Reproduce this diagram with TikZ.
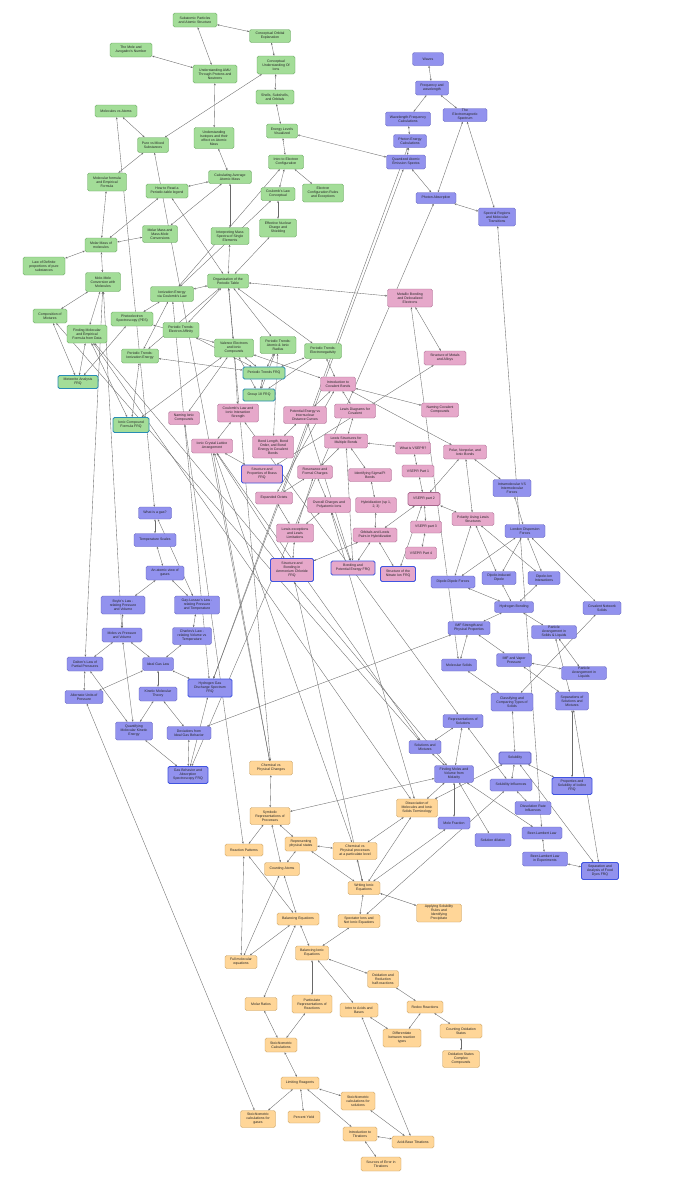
\documentclass[tikz,border=0pt]{standalone}
\usepackage{fontspec}
\setmainfont{Liberation Sans}
\usetikzlibrary{arrows.meta}
\pgfdeclarelayer{back}
\pgfdeclarelayer{edges}
\pgfsetlayers{back,edges,main}
\definecolor{grnfill}{RGB}{163,221,152}
\definecolor{grnline}{RGB}{96,160,88}
\definecolor{prpfill}{RGB}{146,146,238}
\definecolor{prpline}{RGB}{92,92,190}
\definecolor{pnkfill}{RGB}{230,168,202}
\definecolor{pnkline}{RGB}{168,104,142}
\definecolor{orgfill}{RGB}{255,214,152}
\definecolor{orgline}{RGB}{196,156,92}
\definecolor{frqteal}{RGB}{40,140,180}
\definecolor{frqblue}{RGB}{64,84,224}
\definecolor{edgegray}{RGB}{105,105,105}
\tikzset{
  topic/.style={rounded corners=1.6pt, inner sep=0.8pt, align=center,
    font=\fontsize{3.5}{4}\selectfont, text=black!85, line width=0.4pt},
  grn/.style={topic, fill=grnfill, draw=grnline},
  prp/.style={topic, fill=prpfill, draw=prpline},
  pnk/.style={topic, fill=pnkfill, draw=pnkline},
  org/.style={topic, fill=orgfill, draw=orgline},
  frqg/.style={draw=frqteal, line width=0.9pt},
  frqb/.style={draw=frqblue, line width=0.9pt},
  lnk/.style={draw=edgegray, line width=0.35pt,
    {Stealth[length=2.2pt,width=1.8pt]}-{Stealth[length=2.2pt,width=1.8pt]}}
}
\begin{document}
\begin{tikzpicture}[x=1pt,y=-1pt]
\useasboundingbox (0,0) rectangle (679,1200);
\begin{pgfonlayer}{back}
\fill[white] (0,0) rectangle (679,1200);
\end{pgfonlayer}

% Atomic structure (green)
\node[grn, minimum width=44pt, minimum height=14pt] (subatomic) at (195,20) {Subatomic Particles\\and Atomic Structure};
\node[grn, minimum width=41pt, minimum height=13pt] (orbitexpl) at (270,36) {Conceptual Orbital\\Explanation};
\node[grn, minimum width=42pt, minimum height=14pt] (mole) at (131,50) {The Mole and\\Avogadro's Number};
\node[grn, minimum width=44pt, minimum height=18pt] (amu) at (215,74) {Understanding AMU\\Through Protons and\\Neutrons};
\node[grn, minimum width=38pt, minimum height=18pt] (ionsconc) at (276,65) {Conceptual\\Understanding Of\\Ions};
\node[grn, minimum width=38pt, minimum height=14pt] (shells) at (275,97) {Shells, Subshells,\\and Orbitals};
\node[grn, minimum width=31pt, minimum height=14pt] (energylev) at (282,131) {Energy Levels\\Visualized};
\node[grn, minimum width=35pt, minimum height=14pt] (econfig) at (286,162) {Intro to Electron\\Configuration};
\node[grn, minimum width=34pt, minimum height=13pt] (coulconc) at (278,194) {Coulomb's Law\\Conceptual};
\node[grn, minimum width=41pt, minimum height=18pt] (econfrules) at (323,193) {Electron\\Configuration Rules\\and Exceptions};
\node[grn, minimum width=37pt, minimum height=18pt] (zeff) at (278,228) {Effective Nuclear\\Charge and\\Shielding};
\node[grn, minimum width=42pt, minimum height=12pt] (molatoms) at (116,111) {Molecules vs Atoms};
\node[grn, minimum width=31pt, minimum height=15pt] (puremix) at (153,145) {Pure vs Mixed\\Substances};
\node[grn, minimum width=40pt, minimum height=21pt] (isotopes) at (214,138) {Understanding\\Isotopes and their\\effect on Atomic\\Mass};
\node[grn, minimum width=43pt, minimum height=13pt] (avgmass) at (230,177) {Calculating Average\\Atomic Mass};
\node[grn, minimum width=39pt, minimum height=18pt] (molform) at (107,182) {Molecular formula\\and Empirical\\Formula};
\node[grn, minimum width=42pt, minimum height=14pt] (ptlegend) at (167,191) {How to Read a\\Periodic-table legend};
\node[grn, minimum width=38pt, minimum height=17pt] (massspec) at (230,236) {Interpreting Mass\\Spectra of Single\\Elements};
\node[grn, minimum width=35pt, minimum height=17pt] (massmole) at (160,234) {Molar Mass and\\Mass-Mole\\Conversions};
\node[grn, minimum width=32pt, minimum height=14pt] (molarmass) at (101,245) {Molar Mass of\\molecules};
\node[grn, minimum width=42pt, minimum height=18pt] (defprop) at (44,266) {Law of Definite\\proportions of pure\\substances};
\node[grn, minimum width=35pt, minimum height=19pt] (molemole) at (103,282) {Mole-Mole\\Conversion with\\Molecules};
\node[grn, minimum width=41pt, minimum height=14pt] (orgpt) at (228,281) {Organization of the\\Periodic Table};
\node[grn, minimum width=43pt, minimum height=15pt] (iecoul) at (172,294) {Ionization Energy\\via Coulomb's Law};
\node[grn, minimum width=34pt, minimum height=14pt] (compmix) at (50,316) {Composition of\\Mixtures};
\node[grn, minimum width=40pt, minimum height=18pt] (findform) at (87,334) {Finding Molecular\\and Empirical\\Formula from Data};
\node[grn, minimum width=42pt, minimum height=14pt] (pes) at (132,319) {Photoelectron\\Spectroscopy (PES)};
\node[grn, minimum width=36pt, minimum height=15pt] (trendea) at (181,330) {Periodic Trends:\\Electron Affinity};
\node[grn, minimum width=37pt, minimum height=14pt] (trendie) at (140,356) {Periodic Trends:\\Ionization Energy};
\node[grn, minimum width=39pt, minimum height=18pt] (valence) at (234,348) {Valence Electrons\\and Ionic\\Compounds};
\node[grn, minimum width=36pt, minimum height=17pt] (trendrad) at (278,345) {Periodic Trends:\\Atomic \& Ionic\\Radius};
\node[grn, minimum width=37pt, minimum height=15pt] (trenden) at (323,351) {Periodic Trends:\\Electronegativity};
\node[grn, frqg, minimum width=42pt, minimum height=12pt] (trendfrq) at (264,373) {Periodic Trends FRQ};
\node[grn, frqg, minimum width=32pt, minimum height=12pt] (groupfrq) at (259,395) {Group 18 FRQ};
\node[grn, frqg, minimum width=40pt, minimum height=13pt] (meteorfrq) at (78,382) {Meteorite Analysis\\FRQ};
\node[grn, frqg, minimum width=36pt, minimum height=15pt] (ionicfrq) at (131,425) {Ionic Compound\\Formula FRQ};

% Light and spectra (purple)
\node[prp, minimum width=31pt, minimum height=13pt] (waves) at (428,59) {Waves};
\node[prp, minimum width=33pt, minimum height=14pt] (freq) at (432,88) {Frequency and\\wavelength};
\node[prp, minimum width=45pt, minimum height=14pt] (wavecalc) at (408,119) {Wavelength-Frequency\\Calculations};
\node[prp, minimum width=44pt, minimum height=13pt] (emspec) at (465,115) {The\\Electromagnetic\\Spectrum};
\node[prp, minimum width=33pt, minimum height=13pt] (photon) at (410,141) {Photon Energy\\Calculations};
\node[prp, minimum width=39pt, minimum height=14pt] (emission) at (406,162) {Quantized Atomic\\Emission Spectra};
\node[prp, minimum width=40pt, minimum height=11pt] (absorb) at (436,198) {Photon Absorption};
\node[prp, minimum width=37pt, minimum height=18pt] (spectral) at (497,217) {Spectral Regions\\and Molecular\\Transitions};

% Bonding (pink)
\node[pnk, minimum width=45pt, minimum height=18pt] (metallic) at (410,298) {Metallic Bonding\\and Delocalized\\Electrons};
\node[pnk, minimum width=42pt, minimum height=14pt] (metals) at (445,358) {Structure of Metals\\and Alloys};
\node[pnk, minimum width=35pt, minimum height=14pt] (covintro) at (338,384) {Introduction to\\Covalent Bonds};
\node[pnk, minimum width=37pt, minimum height=14pt] (namecov) at (440,410) {Naming Covalent\\Compounds};
\node[pnk, minimum width=41pt, minimum height=18pt] (coulion) at (238,413) {Coulomb's Law and\\Ionic Interaction\\Strength};
\node[pnk, minimum width=31pt, minimum height=13pt] (nameion) at (184,418) {Naming Ionic\\Compounds};
\node[pnk, minimum width=43pt, minimum height=17pt] (pecurve) at (305,415) {Potential Energy vs\\Internuclear\\Distance Curves};
\node[pnk, minimum width=41pt, minimum height=14pt] (lewisdiag) at (355,411) {Lewis Diagrams for\\Covalent};
\node[pnk, minimum width=41pt, minimum height=14pt] (lattice) at (212,446) {Ionic Crystal Lattice\\Arrangement};
\node[pnk, minimum width=41pt, minimum height=22pt] (bondlen) at (273,447) {Bond Length, Bond\\Order, and Bond\\Energy in Covalent\\Bonds};
\node[pnk, minimum width=43pt, minimum height=14pt] (lewismult) at (346,441) {Lewis Structures for\\Multiple Bonds};
\node[pnk, minimum width=35pt, minimum height=12pt] (vseprq) at (413,448) {What is VSEPR?};
\node[pnk, minimum width=43pt, minimum height=14pt] (polar) at (465,452) {Polar, Nonpolar, and\\Ionic Bonds};
\node[pnk, frqb, minimum width=41pt, minimum height=18pt] (brassfrq) at (262,474) {Structure and\\Properties of Brass\\FRQ};
\node[pnk, minimum width=35pt, minimum height=13pt] (resonance) at (315,472) {Resonance and\\Formal Charges};
\node[pnk, minimum width=43pt, minimum height=13pt] (sigmapi) at (370,475) {Identifying Sigma/Pi\\Bonds};
\node[pnk, minimum width=32pt, minimum height=12pt] (vsepra) at (418,471) {VSEPR Part 1};
\node[prp, minimum width=38pt, minimum height=17pt] (intravs) at (512,488) {Intramolecular VS\\Intermolecular\\Forces};
\node[pnk, minimum width=37pt, minimum height=12pt] (octets) at (274,498) {Expanded Octets};
\node[pnk, minimum width=43pt, minimum height=15pt] (polyatom) at (329,505) {Overall Charges and\\Polyatomic Ions};
\node[pnk, minimum width=41pt, minimum height=15pt] (hybrid) at (376,505) {Hybridization (sp 1,\\2, 3)};
\node[pnk, line width=0.8pt, minimum width=32pt, minimum height=13pt] (vseprb) at (424,499) {VSEPR part 2};
\node[pnk, minimum width=42pt, minimum height=13pt] (polarity) at (473,519) {Polarity Using Lewis\\Structures};
\node[prp, minimum width=40pt, minimum height=13pt] (london) at (525,531) {London Dispersion\\Forces};
\node[pnk, minimum width=37pt, minimum height=18pt] (lewisexc) at (295,533) {Lewis exceptions\\and Lewis\\Limitations};
\node[pnk, minimum width=44pt, minimum height=14pt] (orbpairs) at (375,535) {Orbitals and Lewis\\Pairs in Hybridization};
\node[pnk, minimum width=31pt, minimum height=12pt] (vseprc) at (426,527) {VSEPR part 3};
\node[pnk, minimum width=31pt, minimum height=12pt] (vseprd) at (421,553) {VSEPR Part 4};
\node[pnk, frqb, minimum width=43pt, minimum height=23pt] (nh4clfrq) at (292,570) {Structure and\\Bonding in\\Ammonium Chloride\\FRQ};
\node[pnk, frqb, minimum width=44pt, minimum height=14pt] (bondpefrq) at (353,568) {Bonding and\\Potential Energy FRQ};
\node[pnk, frqb, minimum width=35pt, minimum height=15pt] (nitratefrq) at (398,574) {Structure of the\\Nitrate Ion FRQ};

% Forces, solids and solutions (purple)
\node[prp, minimum width=44pt, minimum height=12pt] (dipdip) at (453,582) {Dipole-Dipole Forces};
\node[prp, minimum width=34pt, minimum height=13pt] (dipind) at (499,578) {Dipole-induced\\Dipole};
\node[prp, minimum width=32pt, minimum height=13pt] (dipion) at (544,578) {Dipole-Ion\\Interactions};
\node[prp, minimum width=39pt, minimum height=11pt] (hbond) at (514,607) {Hydrogen Bonding};
\node[prp, minimum width=38pt, minimum height=13pt] (netsolid) at (602,608) {Covalent Network\\Solids};
\node[prp, minimum width=42pt, minimum height=13pt] (imfprop) at (469,628) {IMF Strength and\\Physical Properties};
\node[prp, minimum width=45pt, minimum height=13pt] (partsl) at (554,632) {Particle\\Arrangement in\\Solids \& Liquids};
\node[prp, minimum width=35pt, minimum height=13pt] (vapor) at (514,660) {IMF and Vapor\\Pressure};
\node[prp, minimum width=35pt, minimum height=12pt] (molsolid) at (459,665) {Molecular Solids};
\node[prp, minimum width=45pt, minimum height=13pt] (partliq) at (584,673) {Particle\\Arrangement in\\Liquids};
\node[prp, minimum width=42pt, minimum height=18pt] (solidtypes) at (512,702) {Classifying and\\Comparing Types of\\Solids};
\node[prp, minimum width=33pt, minimum height=18pt] (separate) at (572,701) {Separations of\\Solutions and\\Mixtures};
\node[prp, minimum width=40pt, minimum height=13pt] (represent) at (463,721) {Representations of\\Solutions};
\node[prp, line width=0.8pt, minimum width=32pt, minimum height=12pt] (solubility) at (515,758) {Solubility};
\node[prp, minimum width=39pt, minimum height=17pt] (molarity) at (454,774) {Finding Moles and\\Volume from\\Molarity};
\node[prp, minimum width=32pt, minimum height=13pt] (solmix) at (425,747) {Solutions and\\Mixtures};
\node[prp, minimum width=42pt, minimum height=12pt] (solinfl) at (511,785) {Solubility Influences};
\node[prp, frqb, minimum width=40pt, minimum height=17pt] (iodinefrq) at (572,786) {Properties and\\Solubility of Iodine\\FRQ};
\node[prp, minimum width=36pt, minimum height=13pt] (dissrate) at (533,808) {Dissolution Rate\\Influences};
\node[prp, minimum width=32pt, minimum height=12pt] (molefrac) at (454,823) {Mole Fraction};
\node[prp, minimum width=36pt, minimum height=13pt] (dilution) at (493,840) {Solution dilution};
\node[prp, minimum width=40pt, minimum height=12pt] (beer) at (542,833) {Beer-Lambert Law};
\node[prp, minimum width=45pt, minimum height=14pt] (beerexp) at (545,859) {Beer-Lambert Law\\in Experiments};
\node[prp, frqb, minimum width=37pt, minimum height=17pt] (dyefrq) at (600,871) {Separation and\\Analysis of Food\\Dyes FRQ};

% Gases (purple)
\node[prp, minimum width=33pt, minimum height=12pt] (whatgas) at (155,513) {What is a gas?};
\node[prp, minimum width=42pt, minimum height=13pt] (tempscale) at (155,540) {Temperature Scales};
\node[prp, minimum width=38pt, minimum height=14pt] (atomgas) at (165,573) {An atomic view of\\gases};
\node[prp, minimum width=44pt, minimum height=18pt] (boyle) at (123,605) {Boyle's Law -\\relating Pressure\\and Volume};
\node[prp, minimum width=45pt, minimum height=18pt] (gaylussac) at (197,605) {Gay-Lussac's Law -\\relating Pressure\\and Temperature};
\node[prp, minimum width=40pt, minimum height=14pt] (molespv) at (122,635) {Moles vs Pressure\\and Volume};
\node[prp, minimum width=39pt, minimum height=17pt] (charles) at (192,636) {Charles's Law -\\relating Volume vs\\Temperature};
\node[prp, minimum width=36pt, minimum height=14pt] (dalton) at (85,664) {Dalton's Law of\\Partial Pressures};
\node[prp, minimum width=31pt, minimum height=13pt] (idealgas) at (158,664) {Ideal Gas Law};
\node[prp, minimum width=38pt, minimum height=13pt] (altunits) at (84,697) {Alternate Units of\\Pressure};
\node[prp, minimum width=38pt, minimum height=14pt] (kmt) at (158,694) {Kinetic Molecular\\Theory};
\node[prp, frqb, minimum width=44pt, minimum height=18pt] (h2frq) at (210,688) {Hydrogen Gas\\Discharge Spectrum\\FRQ};
\node[prp, minimum width=37pt, minimum height=18pt] (kequant) at (134,731) {Quantifying\\Molecular Kinetic\\Energy};
\node[prp, minimum width=44pt, minimum height=13pt] (deviate) at (189,733) {Deviations from\\Ideal Gas Behavior};
\node[prp, frqb, minimum width=40pt, minimum height=17pt] (gasfrq) at (188,775) {Gas Behavior and\\Absorption\\Spectroscopy FRQ};

% Reactions (orange)
\node[org, minimum width=43pt, minimum height=14pt] (chemphys) at (271,768) {Chemical vs\\Physical Changes};
\node[org, minimum width=40pt, minimum height=17pt] (symbolic) at (270,816) {Symbolic\\Representations of\\Processes};
\node[org, minimum width=41pt, minimum height=18pt] (dissoc) at (417,808) {Dissociation of\\Molecules and Ionic\\Solids Terminology};
\node[org, minimum width=38pt, minimum height=12pt] (rxnpat) at (244,850) {Reaction Patterns};
\node[org, minimum width=32pt, minimum height=14pt] (physstate) at (301,844) {Representing\\physical states};
\node[org, minimum width=44pt, minimum height=17pt] (partlevel) at (355,851) {Chemical vs\\Physical processes\\at a particulate level};
\node[org, minimum width=35pt, minimum height=13pt] (countatom) at (282,869) {Counting Atoms};
\node[org, minimum width=32pt, minimum height=13pt] (writeion) at (364,888) {Writing Ionic\\Equations};
\node[org, minimum width=45pt, minimum height=18pt] (precip) at (439,913) {Applying Solubility\\Rules and\\Identifying\\Precipitate};
\node[org, minimum width=42pt, minimum height=12pt] (balance) at (298,919) {Balancing Equations};
\node[org, minimum width=42pt, minimum height=13pt] (netionic) at (359,921) {Spectator Ions and\\Net Ionic Equations};
\node[org, minimum width=32pt, minimum height=13pt] (fullmol) at (241,962) {Full molecular\\equations};
\node[org, minimum width=33pt, minimum height=14pt] (balion) at (312,953) {Balancing Ionic\\Equations};
\node[org, minimum width=31pt, minimum height=17pt] (halfrxn) at (383,979) {Oxidation and\\Reduction\\half-reactions};
\node[org, minimum width=32pt, minimum height=13pt] (molratio) at (261,1004) {Molar Ratios};
\node[org, minimum width=40pt, minimum height=18pt] (partrxn) at (312,1004) {Particulate\\Representations of\\Reactions};
\node[org, minimum width=38pt, minimum height=14pt] (acidbase) at (359,1010) {Intro to Acids and\\Bases};
\node[org, minimum width=36pt, minimum height=12pt] (redox) at (425,1007) {Redox Reactions};
\node[org, minimum width=38pt, minimum height=18pt] (rxntypes) at (402,1038) {Differentiate\\between reaction\\types};
\node[org, minimum width=42pt, minimum height=14pt] (oxstate) at (461,1031) {Counting Oxidation\\States};
\node[org, minimum width=37pt, minimum height=17pt] (oxcomplex) at (461,1059) {Oxidation States\\Complex\\Compounds};
\node[org, minimum width=32pt, minimum height=14pt] (stoich) at (281,1045) {Stoichiometric\\Calculations};
\node[org, minimum width=38pt, minimum height=12pt] (limiting) at (300,1083) {Limiting Reagents};
\node[org, minimum width=34pt, minimum height=18pt] (stoichsol) at (358,1101) {Stoichiometric\\calculations for\\solutions};
\node[org, minimum width=35pt, minimum height=17pt] (stoichgas) at (258,1119) {Stoichiometric\\calculations for\\gases};
\node[org, minimum width=32pt, minimum height=12pt] (yield) at (304,1117) {Percent Yield};
\node[org, minimum width=34pt, minimum height=14pt] (titrintro) at (360,1134) {Introduction to\\Titrations};
\node[org, minimum width=42pt, minimum height=12pt] (titration) at (413,1142) {Acid-Base Titrations};
\node[org, minimum width=40pt, minimum height=14pt] (titrerror) at (381,1164) {Sources of Error in\\Titrations};

\begin{pgfonlayer}{edges}
% Links among atomic structure topics
\draw[lnk] (subatomic) -- (orbitexpl);
\draw[lnk] (subatomic) -- (amu);
\draw[lnk] (mole) -- (amu);
\draw[lnk] (orbitexpl) -- (ionsconc);
\draw[lnk] (amu) -- (isotopes);
\draw[lnk] (ionsconc) -- (puremix);
\draw[lnk] (ionsconc) -- (shells);
\draw[lnk] (shells) -- (energylev);
\draw[lnk] (energylev) -- (econfig);
\draw[lnk] (energylev) -- (emission);
\draw[lnk] (econfig) -- (coulconc);
\draw[lnk] (econfig) -- (econfrules);
\draw[lnk] (econfig) -- (iecoul);
\draw[lnk] (coulconc) -- (iecoul);
\draw[lnk] (coulconc) -- (zeff);
\draw[lnk] (zeff) -- (orgpt);
\draw[lnk] (massspec) -- (orgpt);
\draw[lnk] (avgmass) -- (massspec);
\draw[lnk] (isotopes) -- (avgmass);
\draw[lnk] (avgmass) -- (ptlegend);
\draw[lnk] (avgmass) -- (massmole);
\draw[lnk] (molatoms) -- (puremix);
\draw[lnk] (molatoms) -- (whatgas);
\draw[lnk] (puremix) -- (molform);
\draw[lnk] (puremix) -- (chemphys);
\draw[lnk] (molform) -- (molarmass);
\draw[lnk] (ptlegend) -- (molarmass);
\draw[lnk] (ptlegend) -- (orgpt);
\draw[lnk] (massmole) -- (molarmass);
\draw[lnk] (molarmass) -- (defprop);
\draw[lnk] (molarmass) -- (molemole);
\draw[lnk] (molemole) -- (compmix);
\draw[lnk] (molemole) -- (findform);
\draw[lnk] (molemole) -- (dalton);
\draw[lnk] (molemole) -- (molespv);
\draw[lnk] (orgpt) -- (iecoul);
\draw[lnk] (orgpt) -- (valence);
\draw[lnk] (orgpt) -- (trendrad);
\draw[lnk] (orgpt) -- (trenden);
\draw[lnk] (orgpt) -- (trendea);
\draw[lnk] (orgpt) -- (trendie);
\draw[lnk] (orgpt) -- (metallic);
\draw[lnk] (orgpt) -- (chemphys);
\draw[lnk] (iecoul) -- (pes);
\draw[lnk] (iecoul) -- (trendie);
\draw[lnk] (iecoul) -- (h2frq);
\draw[lnk] (compmix) -- (meteorfrq);
\draw[lnk] (compmix) -- (solmix);
\draw[lnk] (findform) -- (meteorfrq);
\draw[lnk] (findform) -- (ionicfrq);
\draw[lnk] (findform) -- (molarity);
\draw[lnk] (findform) -- (dissoc);
\draw[lnk] (pes) -- (meteorfrq);
\draw[lnk] (pes) -- (valence);
\draw[lnk] (trendea) -- (trendfrq);
\draw[lnk] (trendie) -- (trendfrq);
\draw[lnk] (trendie) -- (ionicfrq);
\draw[lnk] (valence) -- (ionicfrq);
\draw[lnk] (valence) -- (trendfrq);
\draw[lnk] (valence) -- (groupfrq);
\draw[lnk] (valence) -- (coulion);
\draw[lnk] (valence) -- (nameion);
\draw[lnk] (valence) -- (covintro);
\draw[lnk] (trendrad) -- (trendfrq);
\draw[lnk] (trendrad) -- (groupfrq);
\draw[lnk] (trendrad) -- (bondlen);
\draw[lnk] (trenden) -- (trendfrq);
\draw[lnk] (trenden) -- (groupfrq);
\draw[lnk] (trenden) -- (covintro);
\draw[lnk] (trendfrq) -- (groupfrq);

% Links among light topics
\draw[lnk] (waves) -- (freq);
\draw[lnk] (freq) -- (wavecalc);
\draw[lnk] (freq) -- (emspec);
\draw[lnk] (wavecalc) -- (photon);
\draw[lnk] (photon) -- (emission);
\draw[lnk] (emission) -- (absorb);
\draw[lnk] (absorb) -- (spectral);
\draw[lnk] (emspec) -- (spectral);
\draw[lnk] (emspec) -- (absorb);
\draw[lnk] (absorb) -- (gasfrq);
\draw[lnk] (emission) -- (h2frq);
\draw[lnk] (photon) -- (h2frq);
\draw[lnk] (spectral) -- (beer);

% Links among bonding topics
\draw[lnk] (metallic) -- (metals);
\draw[lnk] (metallic) -- (molsolid);
\draw[lnk] (metals) -- (brassfrq);
\draw[lnk] (covintro) -- (namecov);
\draw[lnk] (covintro) -- (lewisdiag);
\draw[lnk] (covintro) -- (pecurve);
\draw[lnk] (covintro) -- (polar);
\draw[lnk] (covintro) -- (octets);
\draw[lnk] (lewisdiag) -- (lewismult);
\draw[lnk] (pecurve) -- (bondlen);
\draw[lnk] (pecurve) -- (bondpefrq);
\draw[lnk] (coulion) -- (lattice);
\draw[lnk] (coulion) -- (represent);
\draw[lnk] (lattice) -- (brassfrq);
\draw[lnk] (lattice) -- (nh4clfrq);
\draw[lnk] (lattice) -- (chemphys);
\draw[lnk] (lattice) -- (solmix);
\draw[lnk] (lattice) -- (partlevel);
\draw[lnk] (lewismult) -- (vseprq);
\draw[lnk] (lewismult) -- (resonance);
\draw[lnk] (lewismult) -- (sigmapi);
\draw[lnk] (lewismult) -- (bondpefrq);
\draw[lnk] (vseprq) -- (vsepra);
\draw[lnk] (vsepra) -- (vseprb);
\draw[lnk] (vseprb) -- (vseprc);
\draw[lnk] (vseprc) -- (vseprd);
\draw[lnk] (vseprb) -- (orbpairs);
\draw[lnk] (vseprb) -- (nitratefrq);
\draw[lnk] (vseprb) -- (polarity);
\draw[lnk] (polar) -- (vseprb);
\draw[lnk] (polar) -- (intravs);
\draw[lnk] (polar) -- (polarity);
\draw[lnk] (sigmapi) -- (hybrid);
\draw[lnk] (hybrid) -- (orbpairs);
\draw[lnk] (resonance) -- (polyatom);
\draw[lnk] (resonance) -- (lewisexc);
\draw[lnk] (resonance) -- (octets);
\draw[lnk] (octets) -- (lewisexc);
\draw[lnk] (polyatom) -- (lewisexc);
\draw[lnk] (polyatom) -- (bondpefrq);
\draw[lnk] (polyatom) -- (dissoc);
\draw[lnk] (lewisexc) -- (nh4clfrq);
\draw[lnk] (orbpairs) -- (nh4clfrq);
\draw[lnk] (orbpairs) -- (bondpefrq);
\draw[lnk] (orbpairs) -- (nitratefrq);
\draw[lnk] (nh4clfrq) -- (writeion);
\draw[lnk] (nameion) -- (rxnpat);

% Links among forces, solids and solutions
\draw[lnk] (polarity) -- (dipdip);
\draw[lnk] (polarity) -- (dipind);
\draw[lnk] (polarity) -- (dipion);
\draw[lnk] (intravs) -- (london);
\draw[lnk] (london) -- (dipdip);
\draw[lnk] (london) -- (dipind);
\draw[lnk] (london) -- (dipion);
\draw[lnk] (london) -- (netsolid);
\draw[lnk] (dipdip) -- (hbond);
\draw[lnk] (dipind) -- (hbond);
\draw[lnk] (dipion) -- (hbond);
\draw[lnk] (hbond) -- (imfprop);
\draw[lnk] (hbond) -- (partsl);
\draw[lnk] (imfprop) -- (molsolid);
\draw[lnk] (imfprop) -- (vapor);
\draw[lnk] (imfprop) -- (deviate);
\draw[lnk] (partsl) -- (partliq);
\draw[lnk] (partsl) -- (separate);
\draw[lnk] (vapor) -- (partliq);
\draw[lnk] (vapor) -- (separate);
\draw[lnk] (netsolid) -- (solidtypes);
\draw[lnk] (molsolid) -- (solidtypes);
\draw[lnk] (solidtypes) -- (solubility);
\draw[lnk] (separate) -- (iodinefrq);
\draw[lnk] (separate) -- (dyefrq);
\draw[lnk] (represent) -- (molarity);
\draw[lnk] (represent) -- (solinfl);
\draw[lnk] (represent) -- (solmix);
\draw[lnk] (solmix) -- (molarity);
\draw[lnk] (solubility) -- (solinfl);
\draw[lnk] (solubility) -- (iodinefrq);
\draw[lnk] (solubility) -- (dyefrq);
\draw[lnk] (solubility) -- (dissoc);
\draw[lnk] (solinfl) -- (dissrate);
\draw[lnk] (solinfl) -- (netionic);
\draw[lnk] (molarity) -- (molefrac);
\draw[lnk] (molarity) -- (dilution);
\draw[lnk] (molarity) -- (beer);
\draw[lnk] (molarity) -- (symbolic);
\draw[lnk] (molarity) -- (dissoc);
\draw[lnk] (beer) -- (beerexp);
\draw[lnk] (beerexp) -- (dyefrq);
\draw[lnk] (molefrac) -- (writeion);

% Links among gas topics
\draw[lnk] (whatgas) -- (tempscale);
\draw[lnk] (whatgas) -- (gaylussac);
\draw[lnk] (tempscale) -- (atomgas);
\draw[lnk] (atomgas) -- (boyle);
\draw[lnk] (atomgas) -- (gaylussac);
\draw[lnk] (boyle) -- (molespv);
\draw[lnk] (gaylussac) -- (charles);
\draw[lnk] (molespv) -- (dalton);
\draw[lnk] (molespv) -- (idealgas);
\draw[lnk] (molespv) -- (kequant);
\draw[lnk] (charles) -- (idealgas);
\draw[lnk] (dalton) -- (altunits);
\draw[lnk] (dalton) -- (kequant);
\draw[lnk] (idealgas) -- (altunits);
\draw[lnk] (idealgas) -- (kmt);
\draw[lnk] (idealgas) -- (h2frq);
\draw[lnk] (kmt) -- (kequant);
\draw[lnk] (kmt) -- (deviate);
\draw[lnk] (kequant) -- (gasfrq);
\draw[lnk] (deviate) -- (gasfrq);
\draw[lnk] (h2frq) -- (gasfrq);
\draw[lnk] (altunits) -- (stoichgas);

% Links among reaction topics
\draw[lnk] (chemphys) -- (symbolic);
\draw[lnk] (symbolic) -- (rxnpat);
\draw[lnk] (symbolic) -- (physstate);
\draw[lnk] (symbolic) -- (countatom);
\draw[lnk] (physstate) -- (partlevel);
\draw[lnk] (physstate) -- (countatom);
\draw[lnk] (physstate) -- (writeion);
\draw[lnk] (dissoc) -- (partlevel);
\draw[lnk] (dissoc) -- (writeion);
\draw[lnk] (partlevel) -- (writeion);
\draw[lnk] (rxnpat) -- (balance);
\draw[lnk] (rxnpat) -- (fullmol);
\draw[lnk] (countatom) -- (balance);
\draw[lnk] (countatom) -- (fullmol);
\draw[lnk] (writeion) -- (precip);
\draw[lnk] (writeion) -- (netionic);
\draw[lnk] (balance) -- (fullmol);
\draw[lnk] (balance) -- (balion);
\draw[lnk] (balance) -- (molratio);
\draw[lnk] (netionic) -- (balion);
\draw[lnk] (balion) -- (halfrxn);
\draw[lnk] (balion) -- (partrxn);
\draw[lnk] (balion) -- (acidbase);
\draw[lnk] (halfrxn) -- (redox);
\draw[lnk] (redox) -- (rxntypes);
\draw[lnk] (redox) -- (oxstate);
\draw[lnk] (oxstate) -- (oxcomplex);
\draw[lnk] (acidbase) -- (rxntypes);
\draw[lnk] (acidbase) -- (titration);
\draw[lnk] (molratio) -- (stoich);
\draw[lnk] (partrxn) -- (stoich);
\draw[lnk] (stoich) -- (limiting);
\draw[lnk] (limiting) -- (stoichgas);
\draw[lnk] (limiting) -- (yield);
\draw[lnk] (limiting) -- (stoichsol);
\draw[lnk] (limiting) -- (titrintro);
\draw[lnk] (stoichsol) -- (titration);
\draw[lnk] (titrintro) -- (titration);
\draw[lnk] (titrintro) -- (titrerror);
\end{pgfonlayer}
\end{tikzpicture}
\end{document}
